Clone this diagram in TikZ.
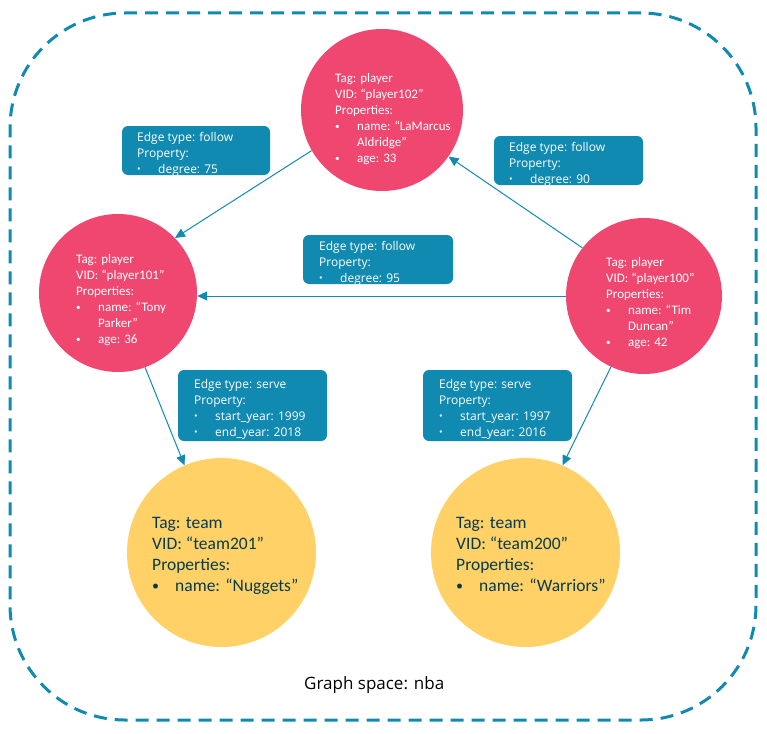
\documentclass[tikz,border=0pt]{standalone}
\usepackage{fontspec}
\setmainfont{Carlito}
\newfontfamily\uifont{Open Sans}
\usetikzlibrary{arrows.meta}
\definecolor{pinkc}{HTML}{EF476F}
\definecolor{yellowc}{HTML}{FFD166}
\definecolor{bluec}{HTML}{118AB2}
\definecolor{darkc}{HTML}{073B4C}
\newcommand\pbul{\makebox[22pt][l]{\raisebox{1pt}{\scalebox{0.7}{•}}}}
\newcommand\tbul{\makebox[23pt][l]{\raisebox{1pt}{\scalebox{0.8}{•}}}}
\newcommand\ebul{\makebox[21pt][l]{\raisebox{0.8pt}{\scalebox{0.8}{•}}}}
\begin{document}
\begin{tikzpicture}[x=1pt,y=-1pt,
  player/.style={circle,fill=pinkc,draw=none,inner sep=0,minimum size=#1},
  team/.style={circle,fill=yellowc,draw=none,inner sep=0,minimum size=#1},
  ptext/.style={anchor=north west,inner sep=0,align=left,text=white,font=\fontsize{13}{16}\selectfont},
  ttext/.style={anchor=north west,inner sep=0,align=left,text=darkc,font=\fontsize{17.5}{21}\selectfont},
  ebox/.style={rectangle,fill=bluec,draw=none,rounded corners=6pt,inner sep=0,minimum width=#1},
  etext/.style={anchor=north west,inner sep=0,align=left,text=white,font=\uifont\fontsize{12}{16}\selectfont},
  arr/.style={draw=bluec,line width=1pt,-{Triangle[length=10pt,width=9pt]}},
  space/.style={rectangle,draw=bluec,line width=3pt,dash pattern=on 13pt off 8pt,rounded corners=115pt,inner sep=0}]
\useasboundingbox (0,0) rectangle (767,733);

% graph space border
\node[space,minimum width=746pt,minimum height=707pt] (gs) at (383,366.5) {};

% vertices
\node[player=162pt] (p102) at (382,110) {};
\node[player=158pt] (p101) at (118,293) {};
\node[player=156pt] (p100) at (644,296) {};
\node[team=189pt] (t201) at (221.5,552.5) {};
\node[team=189pt] (t200) at (525.5,552.5) {};

% edges
\draw[arr] (p102.210) -- (p101.44);
\draw[arr] (p100.142) -- (p102.-35);
\draw[arr] (p100.west) -- (p100.west -| p101.east);
\draw[arr] (p101.-70) -- (t201.113);
\draw[arr] (p100.-115) -- (t200.67);

% vertex texts
\node[ptext] (p102t) at (335,70) {\rule{0pt}{12pt}Tag: player\\VID: “player102”\\Properties:\\\pbul name: “LaMarcus\\\hspace*{22pt}Aldridge”\\\pbul age: 33};
\node[ptext] (p101t) at (76,251.5) {\rule{0pt}{12pt}Tag: player\\VID: “player101”\\Properties:\\\pbul name: “Tony\\\hspace*{22pt}Parker”\\\pbul age: 36};
\node[ptext] (p100t) at (606,254) {\rule{0pt}{12pt}Tag: player\\VID: “player100”\\Properties:\\\pbul name: “Tim\\\hspace*{22pt}Duncan”\\\pbul age: 42};
\node[ttext] (t201t) at (152,513.5) {\rule{0pt}{15pt}Tag: team\\VID: “team201”\\Properties:\\\tbul name: “Nuggets”};
\node[ttext] (t200t) at (456,513.5) {\rule{0pt}{15pt}Tag: team\\VID: “team200”\\Properties:\\\tbul name: “Warriors”};

% edge label boxes
\node[ebox=148pt,minimum height=49pt] (e75) at (196,150.5) {};
\node[ebox=149pt,minimum height=49pt] (e90) at (568.5,160.5) {};
\node[ebox=150pt,minimum height=49pt] (e95) at (378,259.5) {};
\node[ebox=149pt,minimum height=71pt] (s99) at (252.5,405.5) {};
\node[ebox=149pt,minimum height=71pt] (s97) at (497.5,405.5) {};

\node[etext] (e75t) at (137,130) {\rule{0pt}{11pt}Edge type: follow\\Property:\\\ebul degree: 75};
\node[etext] (e90t) at (509,140) {\rule{0pt}{11pt}Edge type: follow\\Property:\\\ebul degree: 90};
\node[etext] (e95t) at (319,239) {\rule{0pt}{11pt}Edge type: follow\\Property:\\\ebul degree: 95};
\node[etext] (s99t) at (194,377) {\rule{0pt}{11pt}Edge type: serve\\Property:\\\ebul start\_year: 1999\\\ebul end\_year: 2018};
\node[etext] (s97t) at (439,377) {\rule{0pt}{11pt}Edge type: serve\\Property:\\\ebul start\_year: 1997\\\ebul end\_year: 2016};

% space label
\node[anchor=base west,inner sep=0,font=\uifont\fontsize{17}{20}\selectfont] (gsl) at (304,689) {Graph space: nba};
\end{tikzpicture}
\end{document}
